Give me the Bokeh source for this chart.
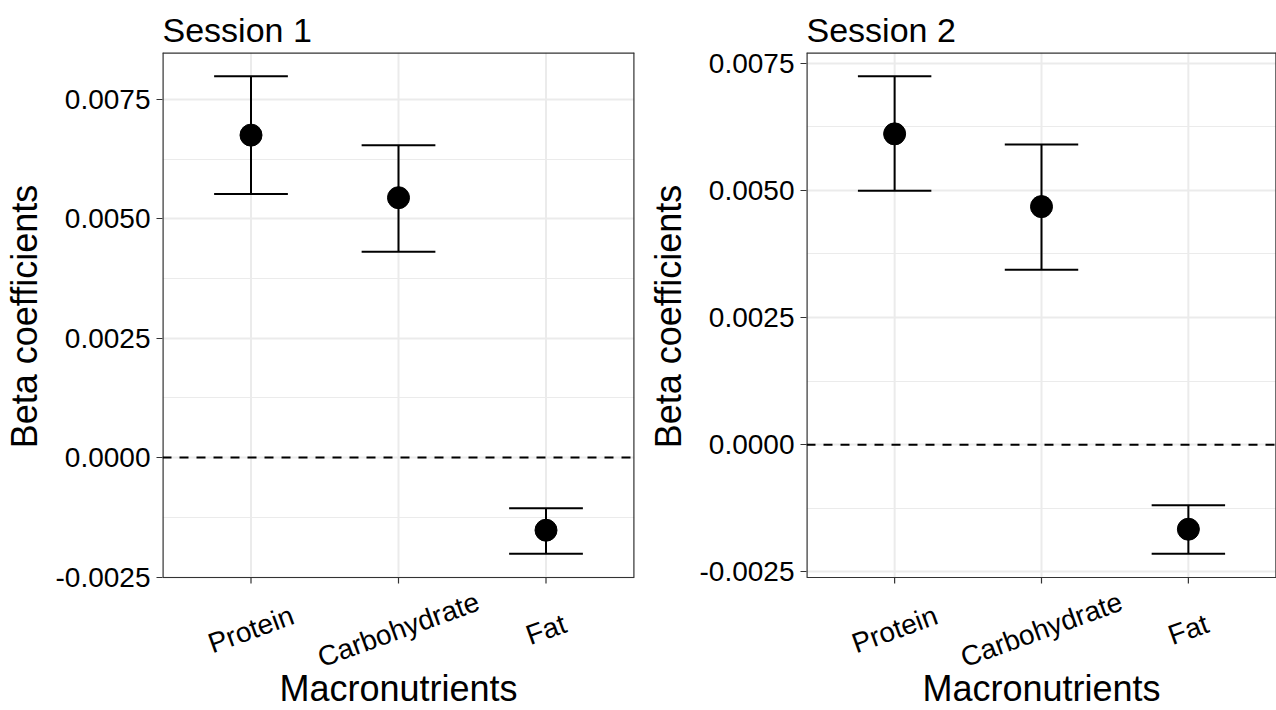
from bokeh.plotting import figure
from bokeh.models import (Range1d, FixedTicker, NumeralTickFormatter, Span,
                          ColumnDataSource)
from bokeh.core.properties import value
from bokeh.layouts import row
from bokeh.embed import file_html
from bokeh.resources import INLINE

# ---------------- data ----------------
categories = ["Protein", "Carbohydrate", "Fat"]

s1_est = [0.00675, 0.00544, -0.00152]
s1_low = [0.00552, 0.00431, -0.00201]
s1_high = [0.00798, 0.00654, -0.00106]

s2_est = [0.00611, 0.00468, -0.00166]
s2_low = [0.00499, 0.00344, -0.00214]
s2_high = [0.00724, 0.00590, -0.00119]

y_ticks = [-0.0025, 0.0, 0.0025, 0.0050, 0.0075]
titles = ["Session 1", "Session 2"]
x_title = "Macronutrients"
y_title = "Beta coefficients"

FONT = "Liberation Sans"
GRID = "#EBEBEB"
DARK = "#333333"

TOP = 52          # space above plot panel (title)
PANEL_H = 525     # plot panel height in px
TOTAL_H = 710
BELOW = TOTAL_H - TOP - PANEL_H   # room below panel for x labels
# non-breaking spaces lift the (frame-centred) y-axis title to the panel centre
YLABEL_PAD = "\u00a0" * 13


def make_panel(title, est, low, high, width, left, right):
    xs = list(range(1, len(categories) + 1))
    src = ColumnDataSource(dict(
        x=xs, est=est, low=low, high=high,
        xl=[v - 0.25 for v in xs], xr=[v + 0.25 for v in xs],
    ))
    lo, hi = min(low), max(high)
    pad = 0.05 * (hi - lo)
    ylo, yhi = lo - pad, hi + pad
    ppu = PANEL_H / (yhi - ylo)          # pixels per data unit
    x0, x1 = 0.4, len(categories) + 0.6

    p = figure(width=width, height=TOTAL_H, output_backend="svg",
               toolbar_location=None,
               x_range=Range1d(x0, x1),
               y_range=Range1d(ylo - BELOW / ppu, yhi),
               min_border_left=left, min_border_right=right,
               min_border_top=TOP, min_border_bottom=0,
               x_axis_location=None)
    p.background_fill_color = "white"
    p.border_fill_color = "white"
    p.outline_line_color = None

    # title
    p.title.text = title
    p.title.text_font = FONT
    p.title.text_font_size = "34px"
    p.title.text_font_style = "normal"
    p.title.text_color = "black"
    p.title.align = "left"
    p.title.offset = 0
    p.title.standoff = 8

    # y axis limited to the panel
    minor = [(a + b) / 2 for a, b in zip(y_ticks[:-1], y_ticks[1:])]
    minor += [y_ticks[-1] + (y_ticks[1] - y_ticks[0]) / 2]
    p.yaxis.ticker = FixedTicker(ticks=y_ticks, minor_ticks=minor)
    p.yaxis.bounds = (ylo, yhi)
    p.yaxis.formatter = NumeralTickFormatter(format="0.0000")
    p.yaxis.axis_label = YLABEL_PAD + y_title
    p.yaxis.axis_label_text_font = FONT
    p.yaxis.axis_label_text_font_size = "36px"
    p.yaxis.axis_label_text_font_style = "normal"
    p.yaxis.axis_label_text_color = "black"
    p.yaxis.axis_label_standoff = 8
    p.yaxis.major_label_text_font = FONT
    p.yaxis.major_label_text_font_size = "28px"
    p.yaxis.major_label_text_color = "black"
    p.yaxis.major_label_standoff = 6
    p.yaxis.major_tick_out = 6
    p.yaxis.major_tick_in = 0
    p.yaxis.major_tick_line_color = DARK
    p.yaxis.major_tick_line_width = 1.2
    p.yaxis.minor_tick_line_color = None
    p.yaxis.axis_line_color = None

    # horizontal grid lines (within panel)
    p.ygrid.bounds = (ylo, yhi)
    p.ygrid.grid_line_color = GRID
    p.ygrid.grid_line_width = 2
    p.ygrid.minor_grid_line_color = GRID
    p.ygrid.minor_grid_line_width = 1
    p.xgrid.visible = False

    # vertical grid lines at categories, limited to the panel
    p.segment(x0=xs, y0=[ylo] * len(xs), x1=xs, y1=[yhi] * len(xs),
              line_color=GRID, line_width=2)

    # panel border
    p.segment(x0=[x0, x0, x1], y0=[ylo, yhi, ylo], x1=[x0, x1, x1],
              y1=[yhi, yhi, yhi], line_color=DARK, line_width=2.4)
    p.segment(x0=[x0], y0=[ylo], x1=[x1], y1=[ylo],
              line_color=DARK, line_width=1.2)

    # x tick marks
    p.segment(x0=xs, y0=[ylo] * len(xs), x1=xs,
              y1=[ylo - 6 / ppu] * len(xs), line_color=DARK, line_width=1.2)

    # rotated category labels and x-axis title
    p.text(x=xs, y=[ylo - 52 / ppu] * len(xs), text=categories, angle=20,
           angle_units="deg", text_align="center", text_baseline="middle",
           text_font=value(FONT), text_font_size="28px", text_color="black")
    p.text(x=[(x0 + x1) / 2], y=[ylo - 111 / ppu], text=[x_title],
           text_align="center", text_baseline="middle",
           text_font=value(FONT), text_font_size="36px", text_color="black")

    # zero line
    p.add_layout(Span(location=0, dimension="width", line_color="black",
                      line_width=2, line_dash="9 8"))

    # error bars + points
    p.segment(x0="x", y0="low", x1="x", y1="high", source=src,
              line_color="black", line_width=2)
    p.segment(x0="xl", y0="high", x1="xr", y1="high", source=src,
              line_color="black", line_width=2)
    p.segment(x0="xl", y0="low", x1="xr", y1="low", source=src,
              line_color="black", line_width=2)
    p.scatter(x="x", y="est", source=src, size=22, color="black")
    return p


p1 = make_panel(titles[0], s1_est, s1_low, s1_high, width=644, left=161, right=10)
p2 = make_panel(titles[1], s2_est, s2_low, s2_high, width=632, left=160, right=0)

layout = row(p1, p2, spacing=0)
open("out.html", "w").write(file_html(layout, INLINE))
